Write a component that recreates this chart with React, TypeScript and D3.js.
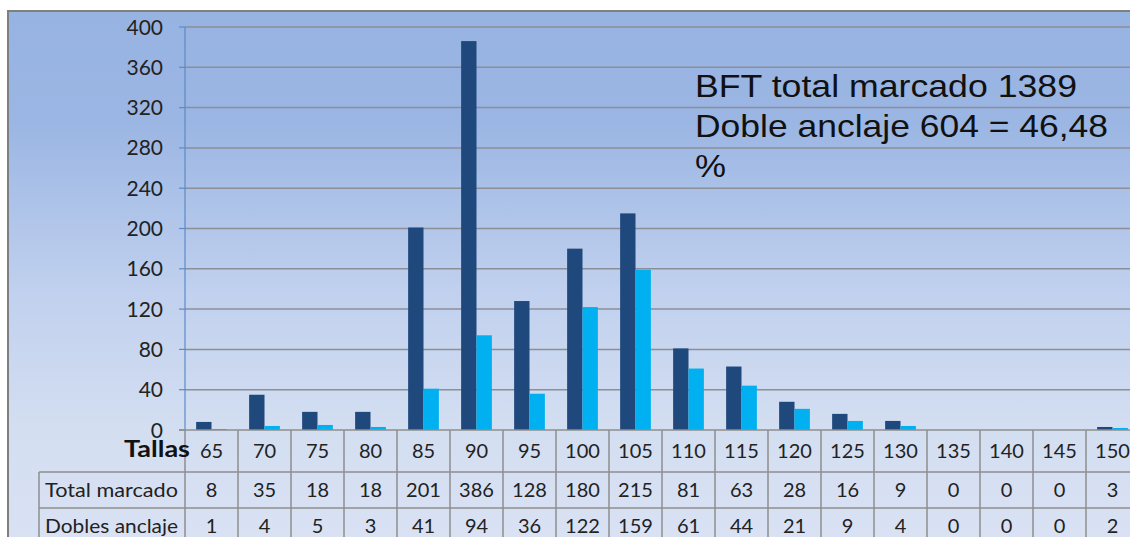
import React, { useEffect, useRef } from 'react';
import * as d3 from 'd3';

const tallas = ['65', '70', '75', '80', '85', '90', '95', '100', '105', '110', '115', '120', '125', '130', '135', '140', '145', '150'];
const totalMarcado = [8, 35, 18, 18, 201, 386, 128, 180, 215, 81, 63, 28, 16, 9, 0, 0, 0, 3];
const doblesAnclaje = [1, 4, 5, 3, 41, 94, 36, 122, 159, 61, 44, 21, 9, 4, 0, 0, 0, 2];
const yTicks = [0, 40, 80, 120, 160, 200, 240, 280, 320, 360, 400];
const seriesNames = ['Total marcado', 'Dobles anclaje'];
const seriesColors = ['#1F497D', '#00B0F0'];
const noteLines = ['BFT total marcado 1389', 'Doble anclaje 604 = 46,48', '%'];

const W = 1130;
const H = 537;

export default function App() {
  const svgRef = useRef<SVGSVGElement>(null);

  useEffect(() => {
    if (!svgRef.current) return;
    const root = d3.select(svgRef.current);
    root.selectAll('*').remove();

    const left = 185;
    const step = 53;
    const right = left + step * tallas.length;
    const top = 27;
    const zeroY = 430;
    const font = 'Lato, "Open Sans", sans-serif';

    const x0 = d3
      .scaleBand<string>()
      .domain(tallas)
      .range([left, right])
      .paddingInner(0.42)
      .paddingOuter(0.21);
    const x1 = d3
      .scaleBand<string>()
      .domain(seriesNames)
      .range([0, x0.bandwidth()]);
    const y = d3.scaleLinear().domain([0, 400]).range([zeroY, top]);

    // background gradient
    const defs = root.append('defs');
    const grad = defs
      .append('linearGradient')
      .attr('id', 'bg')
      .attr('x1', 0)
      .attr('y1', 0)
      .attr('x2', 0)
      .attr('y2', 1);
    [
      [0, '#97B3E2'],
      [0.2, '#9BB6E3'],
      [0.5, '#C0D0EE'],
      [0.75, '#D3DEF1'],
      [1, '#DBE3F4'],
    ].forEach(([o, c]) => grad.append('stop').attr('offset', o as number).attr('stop-color', c as string));

    root.append('rect').attr('width', W).attr('height', H).attr('fill', '#fff');
    root
      .append('rect')
      .attr('x', 8)
      .attr('y', 11)
      .attr('width', W + 20)
      .attr('height', H + 20)
      .attr('fill', 'url(#bg)')
      .attr('stroke', '#7F7F7F')
      .attr('stroke-width', 2);

    const g = root.append('g');

    // gridlines
    g.selectAll('.grid')
      .data(yTicks.filter((t) => t > 0))
      .enter()
      .append('line')
      .attr('x1', left)
      .attr('x2', W + 10)
      .attr('y1', (d) => y(d))
      .attr('y2', (d) => y(d))
      .attr('stroke', '#8C8F98')
      .attr('stroke-width', 1.5);

    // y axis
    g.append('line')
      .attr('x1', left)
      .attr('x2', left)
      .attr('y1', top)
      .attr('y2', zeroY)
      .attr('stroke', '#5B8BC8')
      .attr('stroke-width', 1.2);
    g.selectAll('.tick')
      .data(yTicks)
      .enter()
      .append('line')
      .attr('x1', left - 6)
      .attr('x2', left)
      .attr('y1', (d) => y(d))
      .attr('y2', (d) => y(d))
      .attr('stroke', '#5B8BC8')
      .attr('stroke-width', 1.2);
    g.selectAll('.ylab')
      .data(yTicks)
      .enter()
      .append('text')
      .attr('x', 163)
      .attr('y', (d) => y(d))
      .attr('dy', '0.36em')
      .attr('text-anchor', 'end')
      .style('font-family', font)
      .style('font-size', '21px')
      .style('fill', '#222')
      .text((d) => d);

    // bars
    const series = [totalMarcado, doblesAnclaje];
    series.forEach((vals, si) => {
      g.selectAll(`.bar${si}`)
        .data(vals)
        .enter()
        .append('rect')
        .attr('x', (d, i) => (x0(tallas[i]) as number) + (x1(seriesNames[si]) as number))
        .attr('width', x1.bandwidth())
        .attr('y', (d) => y(d))
        .attr('height', (d) => zeroY - y(d))
        .attr('fill', seriesColors[si]);
    });

    // data table
    const rowTops = [zeroY, 472, 508, 544];
    const tableLeft = 39;
    const grid = '#8E8E8E';
    g.append('line')
      .attr('x1', left - 6)
      .attr('x2', W + 10)
      .attr('y1', zeroY)
      .attr('y2', zeroY)
      .attr('stroke', grid)
      .attr('stroke-width', 1.5);
    [rowTops[1], rowTops[2]].forEach((ry) => {
      g.append('line')
        .attr('x1', tableLeft)
        .attr('x2', W + 10)
        .attr('y1', ry)
        .attr('y2', ry)
        .attr('stroke', grid)
        .attr('stroke-width', 1.5);
    });
    g.append('line')
      .attr('x1', tableLeft)
      .attr('x2', tableLeft)
      .attr('y1', rowTops[1])
      .attr('y2', H + 10)
      .attr('stroke', grid)
      .attr('stroke-width', 1.5);
    g.selectAll('.vline')
      .data(d3.range(tallas.length + 1))
      .enter()
      .append('line')
      .attr('x1', (i) => left + i * x0.step())
      .attr('x2', (i) => left + i * x0.step())
      .attr('y1', zeroY)
      .attr('y2', H + 10)
      .attr('stroke', grid)
      .attr('stroke-width', 1.5);

    const rows = [tallas, totalMarcado, doblesAnclaje];
    rows.forEach((vals, ri) => {
      const cy = (rowTops[ri] + rowTops[ri + 1]) / 2;
      g.selectAll(`.cell${ri}`)
        .data(vals)
        .enter()
        .append('text')
        .attr('x', (d, i) => (x0(tallas[i]) as number) + x0.bandwidth() / 2)
        .attr('y', cy)
        .attr('dy', '0.36em')
        .attr('text-anchor', 'middle')
        .style('font-family', font)
        .style('font-size', '20px')
        .style('fill', '#222')
        .text((d) => d);
    });

    g.append('text')
      .attr('x', 124)
      .attr('y', 457)
      .attr('textLength', 66)
      .attr('lengthAdjust', 'spacingAndGlyphs')
      .style('font-family', font)
      .style('font-weight', 'bold')
      .style('font-size', '23px')
      .style('fill', '#111')
      .text('Tallas');

    seriesNames.forEach((name, i) => {
      g.append('text')
        .attr('x', 45)
        .attr('y', (rowTops[i + 1] + rowTops[i + 2]) / 2)
        .attr('dy', '0.36em')
        .attr('textLength', 133)
        .attr('lengthAdjust', 'spacingAndGlyphs')
        .style('font-family', font)
        .style('font-size', '20px')
        .style('fill', '#222')
        .text(name);
    });

    // annotation
    const noteWidths = [382, 413, 31];
    noteLines.forEach((line, i) => {
      g.append('text')
        .attr('x', 695)
        .attr('y', 97 + i * 40)
        .attr('textLength', noteWidths[i])
        .attr('lengthAdjust', 'spacingAndGlyphs')
        .style('font-family', '"Liberation Sans", Arial, sans-serif')
        .style('font-size', '32px')
        .style('fill', '#111')
        .text(line);
    });
  }, []);

  return (
    <svg
      ref={svgRef}
      width={W}
      height={H}
      style={{ position: 'absolute', left: 0, top: 0, display: 'block' }}
    ></svg>
  );
}
